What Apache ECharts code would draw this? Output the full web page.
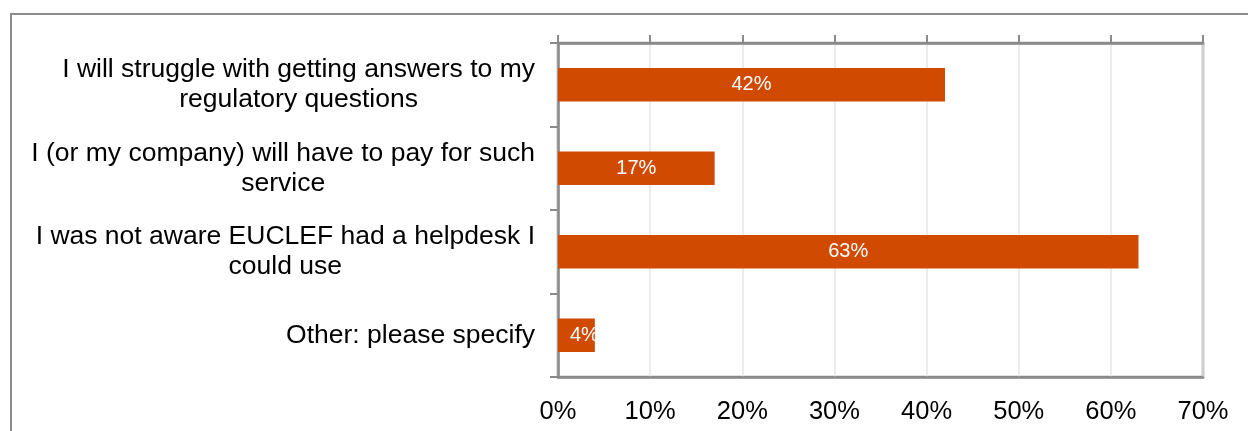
<!DOCTYPE html>
<html>
<head>
<meta charset="utf-8">
<style>
html,body{margin:0;padding:0;background:#fff;}
#chart{width:1248px;height:431px;}
</style>
<script src="https://cdn.jsdelivr.net/npm/echarts@6/dist/echarts.min.js"></script>
</head>
<body>
<div id="chart"></div>
<script>
const categories = [
  "I will struggle with getting answers to my\nregulatory questions",
  "I (or my company) will have to pay for such\nservice",
  "I was not aware EUCLEF had a helpdesk I\ncould use",
  "Other: please specify"
];
const values = [42, 17, 63, 4];
const xTicks = [0, 10, 20, 30, 40, 50, 60, 70];

const FONT = '"Liberation Sans", Arial, sans-serif';
const FRAME = '#8a8a8a';
const chart = echarts.init(document.getElementById('chart'), null, {renderer: 'canvas'});

const seriesData = values.map((v, i) => {
  const item = {value: v};
  if (v < 8) {
    item.label = {position: 'insideLeft', distance: 12};
  }
  return item;
});

chart.setOption({
  animation: false,
  backgroundColor: '#fff',
  graphic: [{
    type: 'rect',
    shape: {x: 11, y: 14, width: 1400, height: 600},
    style: {fill: 'none', stroke: FRAME, lineWidth: 2},
    silent: true,
    z: -10
  }],
  grid: {
    left: 558, right: 45, top: 43, bottom: 54,
    show: true, borderColor: FRAME, borderWidth: 2.5, backgroundColor: 'transparent'
  },
  xAxis: [{
    type: 'value',
    position: 'bottom',
    min: xTicks[0], max: xTicks[xTicks.length - 1], interval: 10,
    axisLine: {show: true, lineStyle: {color: FRAME, width: 2.5}},
    axisTick: {show: false},
    splitLine: {show: true, lineStyle: {color: '#e6e6e6', width: 1.5}},
    axisLabel: {
      formatter: v => v + '%',
      fontSize: 25.5, color: '#000', fontFamily: FONT, margin: 22
    }
  }, {
    type: 'value',
    position: 'top',
    min: xTicks[0], max: xTicks[xTicks.length - 1], interval: 10,
    axisLine: {show: true, lineStyle: {color: FRAME, width: 2.5}},
    axisTick: {show: true, inside: false, length: 8, lineStyle: {color: FRAME, width: 2}},
    splitLine: {show: false},
    axisLabel: {show: false}
  }],
  yAxis: {
    type: 'category',
    inverse: true,
    data: categories,
    axisLine: {show: true, lineStyle: {color: FRAME, width: 2.5}},
    axisTick: {show: true, length: 8, alignWithLabel: false, lineStyle: {color: FRAME, width: 2}},
    axisLabel: {
      interval: 0,
      margin: 23,
      formatter: v => v.split('\n').map(l => '{c|' + l + '}').join('\n'),
      rich: {
        c: {align: 'center', fontSize: 26.5, lineHeight: 30, color: '#000', fontFamily: FONT}
      }
    }
  },
  series: [{
    type: 'bar',
    xAxisIndex: 0,
    data: seriesData,
    barWidth: '40%',
    itemStyle: {color: '#D04A02'},
    label: {
      show: true,
      position: 'inside',
      formatter: p => p.value + '%',
      color: '#fff',
      fontSize: 20,
      fontFamily: FONT
    }
  }]
});
</script>
</body>
</html>
